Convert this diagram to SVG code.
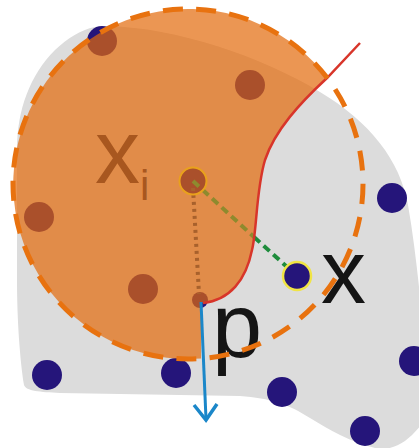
<svg xmlns="http://www.w3.org/2000/svg" width="419" height="448" viewBox="0 0 419 448">
  <defs>
    <style>
      .navy { fill: #25157A; }
      .lbl { font-family: "Liberation Sans", Arial, sans-serif; }
    </style>
  </defs>
  <rect width="419" height="448" fill="#ffffff"/>
  <g id="region">
    <path d="M 95,27 C 160,22 260,55 320,92 C 370,122 400,160 408,205 C 416,250 420,300 425,340 L 425,420 C 410,440 395,452 375,448 C 350,442 330,430 310,418 C 290,405 270,398 240,396 L 60,393 C 40,392 26,391 24,385 C 20,360 17,320 17,280 L 17,150 C 17,110 30,75 55,50 C 68,38 80,30 95,27 Z" fill="#DCDCDC"/>
  </g>
  <g id="points">
    <circle class="navy" cx="102" cy="41" r="15"/>
    <circle class="navy" cx="250" cy="85" r="15"/>
    <circle class="navy" cx="39" cy="217" r="15"/>
    <circle class="navy" cx="143" cy="289" r="15"/>
    <circle class="navy" cx="392" cy="198" r="15"/>
    <circle class="navy" cx="47" cy="375" r="15"/>
    <circle class="navy" cx="176" cy="373" r="15"/>
    <circle class="navy" cx="282" cy="392" r="15"/>
    <circle class="navy" cx="365" cy="431" r="15"/>
    <circle class="navy" cx="414" cy="361" r="15"/>
  </g>
  <g id="xi-node">
    <circle cx="193" cy="181" r="13" fill="#25157A"/>
  </g>
  <g id="p-node">
    <circle cx="200" cy="300" r="8" fill="#25157A"/>
  </g>
  <g id="orange-region">
    <path d="M 329,80 A 175 175 0 1 0 201,358.5 L 201,303 C 230,300 246,280 252,250 C 257,230 256,190 265,160 C 275,130 300,103 327,78 Z" fill="#E2690A" fill-opacity="0.7"/>
  </g>
  <g id="connectors" fill="none">
    <line x1="193" y1="181" x2="254" y2="237" stroke="#8E8A2E" stroke-width="4" stroke-dasharray="8 5"/>
    <line x1="254" y1="237" x2="297" y2="276" stroke="#1E8C3C" stroke-width="4" stroke-dasharray="8 5"/>
    <line x1="193" y1="188" x2="199" y2="294" stroke="#A8612C" stroke-width="4" stroke-dasharray="3 4"/>
    <path d="M 360,43 L 327,78 C 300,103 275,130 265,160 C 256,190 257,230 252,250 C 246,280 230,300 203,303" stroke="#D8352A" stroke-width="2.5"/>
    <line x1="201" y1="302" x2="206" y2="419" stroke="#1B87C9" stroke-width="3"/>
    <polyline points="194,405 206,420 217,404" stroke="#1B87C9" stroke-width="3.5"/>
  </g>
  <g id="xi-ring">
    <circle cx="193" cy="181" r="13.5" fill="none" stroke="#E9A11C" stroke-width="2"/>
  </g>
  <g id="x-node">
    <circle cx="297" cy="276" r="14" fill="#25157A" stroke="#F0E445" stroke-width="2.5"/>
  </g>
  <g id="labels">
    <text class="lbl" x="95" y="183" font-size="90" fill="#A8571F">x</text>
    <text class="lbl" x="140" y="200" font-size="42" fill="#A8571F">i</text>
    <text class="lbl" x="321" y="303" font-size="90" fill="#151515">x</text>
    <text class="lbl" x="212" y="357" font-size="90" fill="#151515">p</text>
  </g>
  <g id="ball">
    <circle cx="188" cy="184" r="175" fill="none" stroke="#E8720F" stroke-width="5" stroke-dasharray="20 13.3"/>
  </g>
</svg>
